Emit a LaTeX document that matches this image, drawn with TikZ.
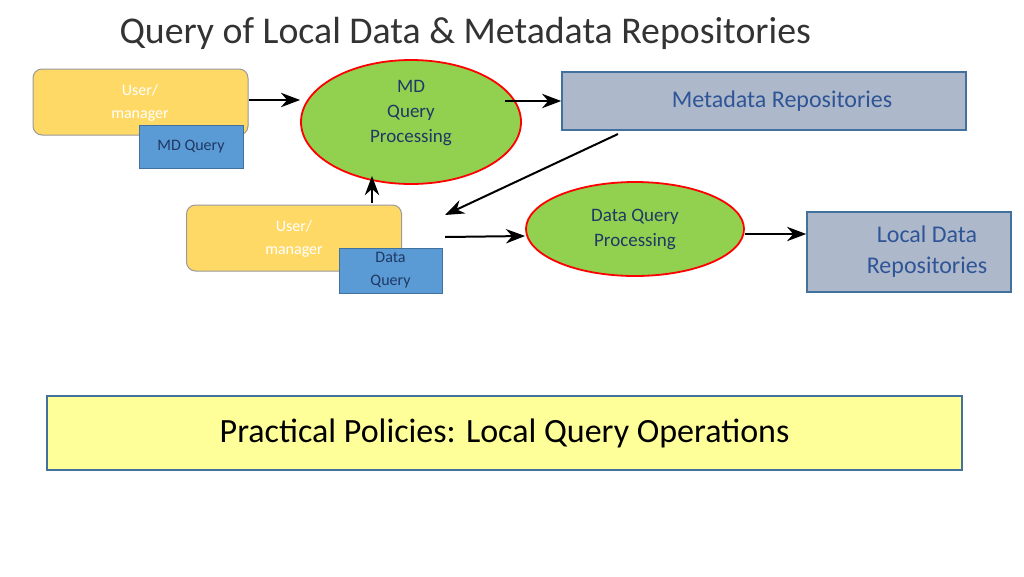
\documentclass[tikz,border=0pt]{standalone}
\usepackage{fontspec}
\setmainfont{Carlito}
\usetikzlibrary{arrows.meta,positioning,shapes.geometric}
\definecolor{userfill}{HTML}{FFD966}
\definecolor{queryfill}{HTML}{5B9BD5}
\definecolor{procfill}{HTML}{92D050}
\definecolor{repofill}{HTML}{ADB9CA}
\definecolor{repoline}{HTML}{41719C}
\definecolor{repotext}{HTML}{2F5597}
\definecolor{policyfill}{HTML}{FFFF99}
\definecolor{proctext}{HTML}{1F3864}
\begin{document}
\begin{tikzpicture}
    [   x = 1pt, y = -1pt
    ,   > = {Stealth[scale=1.6]}
    ,   user/.style =
        {   draw = gray!80
        ,   line width = 1pt
        ,   fill = userfill
        ,   rounded corners = 9pt
        ,   minimum width = 215pt
        ,   minimum height = 66pt
        }
    ,   usertext/.style =
        {   font = \fontsize{16}{23}\selectfont
        ,   text = white
        ,   align = center
        }
    ,   query/.style =
        {   draw = repoline
        ,   fill = queryfill
        ,   inner sep = 0pt
        ,   font = \fontsize{16}{23}\selectfont
        ,   text = proctext
        ,   align = center
        }
    ,   proc/.style =
        {   draw = red
        ,   line width = 1.8pt
        ,   fill = procfill
        ,   ellipse
        ,   inner sep = 0pt
        ,   align = center
        ,   font = \fontsize{19}{25}\selectfont
        ,   text = proctext
        }
    ,   repo/.style =
        {   draw = repoline
        ,   line width = 1.6pt
        ,   fill = repofill
        ,   align = center
        ,   text = repotext
        ,   font = \fontsize{24}{31}\selectfont
        }
    ,   link/.style = {->, line width = 2pt}
    ]
    \useasboundingbox (0,0) rectangle (1024,576);
    \node[anchor=west, font=\fontsize{37.8}{44}\selectfont, text=black!80] (title)
        at (116,33) {Query of Local Data \& Metadata Repositories};
    % metadata query
    \node[user] (U1) at (140.5,102) {};
    \node[usertext] at (140,103) {User/\\manager};
    \node[query, minimum width=104pt, minimum height=43pt] (Q1) at (191,146.5) {MD Query};
    \node[proc, minimum width=220pt, minimum height=124pt] (P1) at (411,122) {};
    \node[proc, draw=none, fill=none] at (411,113) {MD\\Query\\Processing};
    \node[repo, minimum width=404pt, minimum height=58pt] (R1) at (764,101) {\hspace*{36pt}Metadata Repositories};
    % data query
    \node[user] (U2) at (294,238) {};
    \node[usertext] at (294,239) {User/\\manager};
    \node[query, minimum width=103pt, minimum height=45pt] (Q2) at (390.5,270.5) {Data\\Query};
    \node[proc, minimum width=218pt, minimum height=94pt] (P2) at (635,229) {Data Query\\Processing};
    \node[repo, minimum width=204pt, minimum height=80pt] (R2) at (909,252) {\hspace*{36pt}Local Data\\\hspace*{36pt}Repositories};
    \coordinate (A1) at (618,134);
    \coordinate (A2) at (445,215);
    \coordinate (A3) at (445,237);
    \coordinate (A4) at (372,203);
    % connectors
    \draw[link] (U1.east |- 0,100) -- (P1.west |- 0,100);
    \draw[link] (505,101) -- (R1.west |- 0,101);
    \draw[link] (A1) -- (A2);
    \draw[link] (A4) -- (372,176);
    \draw[link] (A3) -- (P2.west |- 0,236);
    \draw[link] (P2.east |- 0,234) -- (R2.west |- 0,234);
    % policy banner
    \node[draw=repoline, line width=1.6pt, fill=policyfill, minimum width=915pt,
          minimum height=74pt, font=\fontsize{34}{40}\selectfont] (policy)
        at (504.5,433) {Practical Policies: Local Query Operations};
\end{tikzpicture}
\end{document}
